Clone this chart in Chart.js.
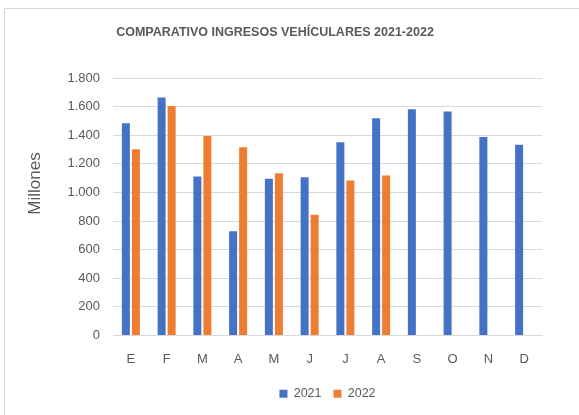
<!DOCTYPE html>
<html>
<head>
<meta charset="utf-8">
<script src="https://cdn.jsdelivr.net/npm/chart.js@4"></script>
<style>
  html, body { margin: 0; padding: 0; background: #ffffff; }
  #wrap { width: 579px; height: 415px; position: relative; }
</style>
</head>
<body>
<div id="wrap"><canvas id="c" width="579" height="415"></canvas></div>
<script>
const categories = ['E', 'F', 'M', 'A', 'M', 'J', 'J', 'A', 'S', 'O', 'N', 'D'];
const values2021 = [1484, 1663, 1111, 728, 1095, 1107, 1351, 1519, 1581, 1565, 1388, 1333];
const values2022 = [1302, 1605, 1395, 1316, 1135, 844, 1084, 1119, null, null, null, null];
const seriesNames = ['2021', '2022'];
const yTickLabels = ['0', '200', '400', '600', '800', '1.000', '1.200', '1.400', '1.600', '1.800'];
const chartTitle = 'COMPARATIVO INGRESOS VEHÍCULARES 2021-2022';
const yAxisTitle = 'Millones';

const FONT = "'Liberation Sans', Arial, sans-serif";
const GREY = '#595959';

const framePlugin = {
  id: 'frame',
  beforeDraw(chart) {
    const ctx = chart.ctx;
    ctx.save();
    ctx.fillStyle = '#ffffff';
    ctx.fillRect(0, 0, chart.width, chart.height);
    ctx.strokeStyle = '#d9d9d9';
    ctx.lineWidth = 1;
    ctx.beginPath();
    ctx.moveTo(4.5, chart.height);
    ctx.lineTo(4.5, 8.5);
    ctx.lineTo(chart.width, 8.5);
    ctx.stroke();
    ctx.restore();
  }
};

// Axis title placed like the original (independent of the plot's vertical centre)
const yTitlePlugin = {
  id: 'yTitle',
  afterDraw(chart) {
    const ctx = chart.ctx;
    ctx.save();
    ctx.translate(35, 183.5);
    ctx.rotate(-Math.PI / 2);
    ctx.font = '17px ' + FONT;
    ctx.fillStyle = GREY;
    ctx.textAlign = 'center';
    ctx.textBaseline = 'middle';
    ctx.fillText(yAxisTitle, 0, 0);
    ctx.restore();
  }
};

new Chart(document.getElementById('c'), {
  type: 'bar',
  data: {
    labels: categories,
    datasets: [
      { label: seriesNames[0], data: values2021, backgroundColor: '#4472C4', borderWidth: 0 },
      { label: seriesNames[1], data: values2022, backgroundColor: '#ED7D31', borderWidth: 0 }
    ]
  },
  options: {
    responsive: false,
    animation: false,
    devicePixelRatio: 1,
    layout: { padding: { left: 8, right: 37, top: 0, bottom: 5 } },
    datasets: { bar: { categoryPercentage: 0.56, barPercentage: 0.8 } },
    plugins: {
      title: {
        display: true,
        text: chartTitle,
        color: GREY,
        font: { family: FONT, size: 12.5, weight: 'bold' },
        padding: { top: 25, bottom: 38 }
      },
      legend: {
        display: true,
        position: 'bottom',
        fullSize: false,
        labels: {
          color: GREY,
          font: { family: FONT, size: 12.5 },
          boxWidth: 8,
          boxHeight: 8,
          padding: 12
        }
      },
      tooltip: { enabled: false }
    },
    scales: {
      x: {
        grid: { display: false, drawTicks: false },
        border: { display: true, color: '#d9d9d9', width: 1 },
        ticks: { color: GREY, font: { family: FONT, size: 13 }, padding: 16, maxRotation: 0 },
        afterFit(scale) { scale.height = 40; }
      },
      y: {
        min: 0,
        max: 1800,
        grid: { color: '#d9d9d9', drawTicks: false, lineWidth: 1 },
        border: { display: false },
        ticks: {
          stepSize: 200,
          color: GREY,
          font: { family: FONT, size: 13 },
          padding: 13,
          callback: (v) => yTickLabels[Math.round(v / 200)]
        },
        title: { display: false },
        afterFit(scale) { scale.width = 105; }
      }
    }
  },
  plugins: [framePlugin, yTitlePlugin]
});
</script>
</body>
</html>
